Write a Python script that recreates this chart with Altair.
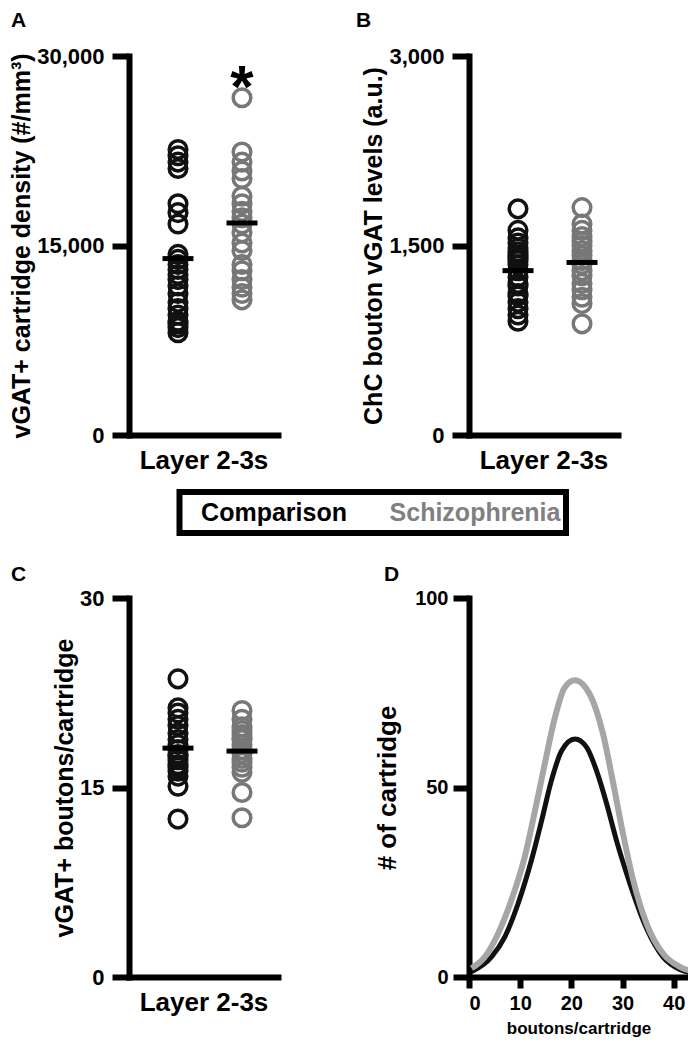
import altair as alt
import pandas as pd

groups = ["Comparison", "Schizophrenia"]
dot_colors = ["#111111", "#777777"]
curve_colors = ["#111111", "#a6a6a6"]

# Panel A: vGAT+ cartridge density (#/mm3)
density_comparison = [22600, 22100, 21600, 21100, 18300, 17600, 16700, 14300, 13900, 13500, 13100,
                      12700, 12300, 11800, 11200, 10500, 10000, 9500, 9000, 8800, 8500, 8100]
density_schizophrenia = [26700, 22400, 21600, 20900, 20300, 18900, 18300, 17700, 17200, 16700,
                         16000, 15200, 14600, 13500, 13000, 12300, 11700, 11200, 10700]
# Panel B: ChC bouton vGAT levels (a.u.)
vgat_comparison = [1790, 1620, 1560, 1520, 1480, 1450, 1420, 1400, 1380, 1350, 1300, 1250, 1200,
                   1180, 1120, 1100, 1050, 1000, 950, 900]
vgat_schizophrenia = [1800, 1670, 1620, 1570, 1530, 1500, 1460, 1420, 1380, 1350, 1300, 1260, 1200,
                      1150, 1090, 1040, 880]
# Panel C: vGAT+ boutons/cartridge
boutons_comparison = [23.6, 21.3, 20.9, 20.4, 19.9, 19.3, 18.8, 18.4, 18.0, 17.6, 17.5, 17.2, 16.8,
                      16.6, 16.3, 15.9, 15.1, 12.5]
boutons_schizophrenia = [21.1, 20.4, 19.8, 19.5, 19.2, 18.9, 18.8, 18.4, 18.0, 17.7, 17.3, 17.0,
                         16.6, 16.2, 14.6, 12.6]
# Panel D: distribution of boutons per cartridge
dist_x_comparison = [0.5, 4.4, 7.0, 9.6, 12.2, 14.2, 16.1, 18.1, 20.7, 23.0, 24.9, 26.9, 28.8, 30.8,
                     34.7, 37.9, 41.2, 43.8]
dist_y_comparison = [1.4, 5.3, 10.6, 19.4, 30.8, 41.3, 51.8, 59.7, 62.8, 60.6, 54.5, 45.7, 36.1, 27.3,
                     12.8, 5.3, 2.0, 1.0]
dist_x_schizophrenia = [0.5, 3.1, 5.7, 8.3, 10.9, 12.9, 14.8, 16.8, 18.7, 20.7, 23.6, 26.2, 28.2, 30.1,
                        32.1, 34.7, 37.9, 41.2, 43.8]
dist_y_schizophrenia = [2.3, 5.3, 11.5, 20.3, 31.7, 43.9, 56.2, 68.5, 76.4, 78.3, 74.6, 64.1, 51.0, 37.8,
                        25.5, 14.1, 6.2, 2.7, 1.4]

density_ticks = [0, 15000, 30000]
vgat_ticks = [0, 1500, 3000]
boutons_ticks = [0, 15, 30]
dist_y_ticks = [0, 50, 100]
dist_x_ticks = [0, 10, 20, 30, 40]
star_value = 28550

FONT = "Liberation Sans, Arial, Helvetica, sans-serif"
NARROW = "Liberation Sans Narrow, Arial Narrow, Liberation Sans, sans-serif"
W, H, WD = 149, 379, 219


def long_df(a, b):
    return pd.DataFrame({"group": [groups[0]] * len(a) + [groups[1]] * len(b), "value": a + b})


x_scale = alt.Scale(type="point", domain=groups, padding=0.664, align=0.5765)
color_scale = alt.Scale(domain=groups, range=dot_colors)

common_axis = dict(grid=False, domainColor="black", tickColor="black", domainWidth=6, tickWidth=6,
                   domainCap="square", labelColor="black", titleColor="black",
                   labelFontWeight="bold", titleFontWeight="bold")


def y_axis(title, ticks, fmt):
    return alt.Axis(title=title, values=ticks, format=fmt, tickSize=17, labelPadding=8,
                    labelFont=FONT, labelFontSize=22, titleFont=FONT, titleFontSize=25,
                    titlePadding=2, **common_axis)


x_axis = alt.Axis(title="Layer 2-3s", labels=False, ticks=False, titleFont=FONT, titleFontSize=26,
                  titlePadding=12, **common_axis)


def letter(ch, lx, ly):
    return alt.Chart(pd.DataFrame({"t": [ch]})).mark_text(
        font=FONT, fontSize=21, fontWeight="bold", align="left", baseline="alphabetic", color="black"
    ).encode(text="t:N", x=alt.value(lx), y=alt.value(ly))


def dot_panel(a, b, title, ticks, fmt, ch, lx, ly):
    df = long_df(a, b)
    ysc = alt.Scale(domain=[ticks[0], ticks[-1]], nice=False)
    yax = y_axis(title, ticks, fmt)
    base = alt.Chart(df)
    pts = base.mark_point(shape="circle", filled=False, size=310, strokeWidth=3.5, opacity=1).encode(
        x=alt.X("group:N", scale=x_scale, axis=x_axis),
        y=alt.Y("value:Q", scale=ysc, axis=yax),
        color=alt.Color("group:N", scale=color_scale, legend=None),
    )
    mean = base.mark_tick(color="black", thickness=5, size=31, opacity=1).encode(
        x=alt.X("group:N", scale=x_scale, axis=x_axis),
        y=alt.Y("mean(value):Q", scale=ysc, axis=yax),
    )
    return [pts, mean, letter(ch, lx, ly)]


layers_a = dot_panel(density_comparison, density_schizophrenia,
                     "vGAT+ cartridge density (#/mm³)", density_ticks, ",d", "A", -118, -29)
star = alt.Chart(pd.DataFrame({"group": [groups[1]], "value": [star_value], "t": ["*"]})).mark_text(
    font=FONT, fontSize=60, fontWeight="bold", baseline="alphabetic", dy=33, color="black"
).encode(x=alt.X("group:N", scale=x_scale, axis=x_axis), y=alt.Y("value:Q"), text="t:N")
panel_a = alt.layer(*layers_a, star).properties(width=W, height=H)

panel_b = alt.layer(*dot_panel(vgat_comparison, vgat_schizophrenia,
                               "ChC bouton vGAT levels (a.u.)", vgat_ticks, ",d", "B", -113, -29)
                    ).properties(width=W, height=H)

legend_box = alt.Chart(pd.DataFrame({"k": [0]})).mark_rect(
    fillOpacity=0, stroke="black", strokeWidth=6
).encode(x=alt.value(50.5), x2=alt.value(437), y=alt.value(-106), y2=alt.value(-65))
legend_txt = [
    alt.Chart(pd.DataFrame({"group": [g]})).mark_text(
        font=FONT, fontSize=25, fontWeight="bold", align="center", baseline="alphabetic", color=c
    ).encode(text="group:N", x=alt.value(px), y=alt.value(-77))
    for g, c, px in zip(groups, ["#000000", "#808080"], [145, 346])
]
panel_c = alt.layer(*dot_panel(boutons_comparison, boutons_schizophrenia,
                               "vGAT+ boutons/cartridge", boutons_ticks, "d", "C", -118, -17),
                    legend_box, *legend_txt).properties(width=W, height=H)

df_d = pd.DataFrame({
    "group": [groups[0]] * len(dist_x_comparison) + [groups[1]] * len(dist_x_schizophrenia),
    "x": dist_x_comparison + dist_x_schizophrenia,
    "y": dist_y_comparison + dist_y_schizophrenia,
})
d_x = alt.X("x:Q", scale=alt.Scale(domain=[0, 42.8], nice=False, zero=False),
            axis=alt.Axis(title="boutons/cartridge", values=dist_x_ticks, tickSize=11, labelPadding=5,
                          labelFont=NARROW, labelFontSize=20, titleFont=NARROW, titleFontSize=17,
                          titlePadding=7, **common_axis))
d_y = alt.Y("y:Q", scale=alt.Scale(domain=[0, 100], nice=False),
            axis=alt.Axis(title="# of cartridge", values=dist_y_ticks, tickSize=16, labelPadding=5,
                          labelFont=NARROW, labelFontSize=20, titleFont=FONT, titleFontSize=26,
                          titlePadding=14, **common_axis))
d_color = alt.Color("group:N", scale=alt.Scale(domain=groups, range=curve_colors), legend=None)
line_c = alt.Chart(df_d).transform_filter(alt.datum.group == groups[0]).mark_line(
    interpolate="monotone", strokeWidth=5, clip=True).encode(x=d_x, y=d_y, color=d_color)
line_s = alt.Chart(df_d).transform_filter(alt.datum.group == groups[1]).mark_line(
    interpolate="monotone", strokeWidth=6, clip=True).encode(x=d_x, y=d_y, color=d_color)
panel_d = alt.layer(line_c, line_s, letter("D", -85, -17)).properties(width=WD, height=H)

chart = alt.concat(panel_a, panel_b, panel_c, panel_d, columns=2,
                   spacing={"row": 163, "column": 191}, bounds="flush").resolve_scale(
    color="independent").configure_view(stroke=None).properties(
    padding={"left": 1, "top": 2, "right": 0, "bottom": 1})

chart.save("out.html", embed_options={"renderer": "svg", "actions": False})
